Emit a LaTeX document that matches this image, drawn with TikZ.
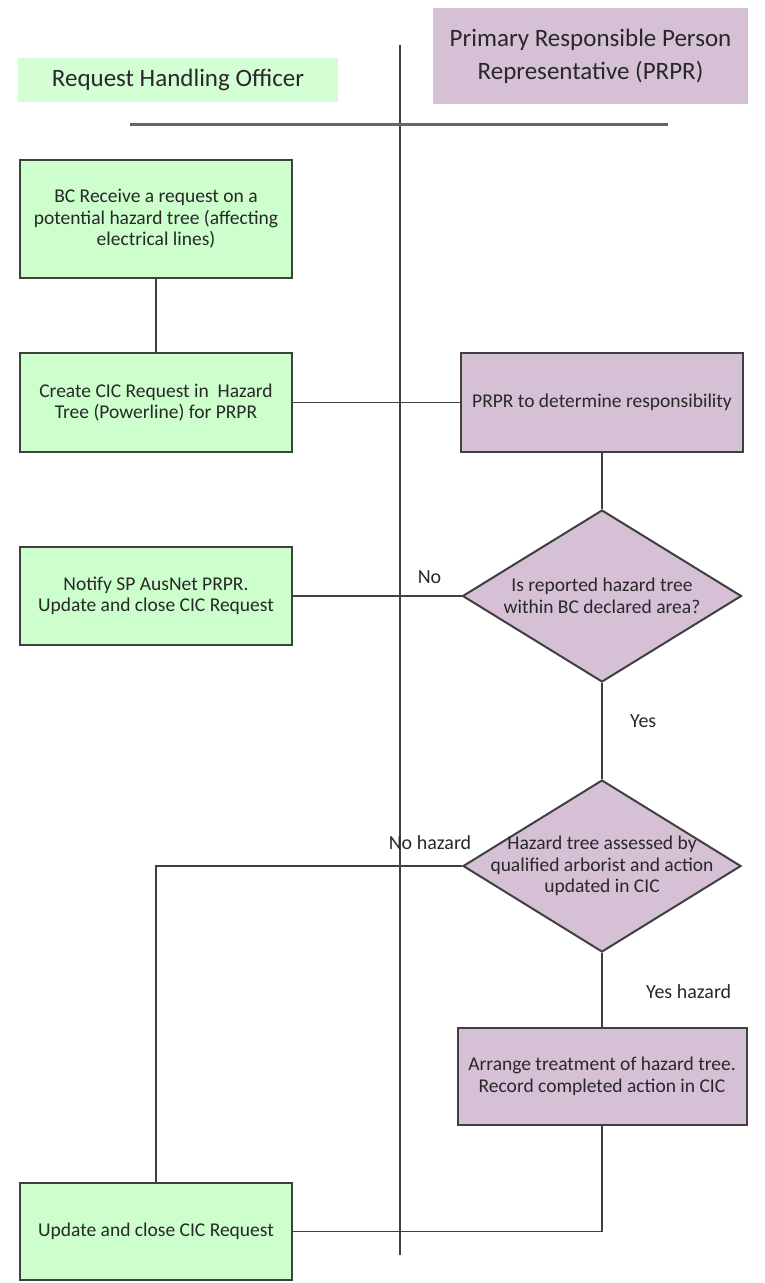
\documentclass[tikz,border=0pt]{standalone}
\usepackage{fontspec}
\setmainfont{Carlito}
\usetikzlibrary{positioning,shapes.geometric,calc}

\definecolor{rhogreen}{RGB}{204,255,204}
\definecolor{prprpurple}{RGB}{214,192,214}
\definecolor{linegray}{RGB}{64,64,64}
\definecolor{textgray}{RGB}{40,40,40}

\tikzset{
  greenbox/.style={draw=linegray, line width=2pt, fill=rhogreen, text=textgray, align=center, inner sep=2pt, font=\fontsize{19.5}{21.5}\selectfont},
  purplebox/.style={draw=linegray, line width=2pt, fill=prprpurple, text=textgray, align=center, inner sep=2pt, font=\fontsize{19.5}{21.5}\selectfont},
  decision/.style={diamond, draw=linegray, line width=2pt, fill=prprpurple, inner sep=0pt},
  dectext/.style={text=textgray, align=center, inner sep=0pt, font=\fontsize{19.5}{21.5}\selectfont},
  conn/.style={draw=linegray, line width=1.7pt},
  branchlabel/.style={text=textgray, font=\fontsize{20}{24}\selectfont}
}

\begin{document}
\begin{tikzpicture}[x=1pt, y=-1pt]
\useasboundingbox (0,0) rectangle (765,1283);

% lane headers
\node[fill=rhogreen!85!white, text=textgray, minimum width=320pt, minimum height=44pt, font=\fontsize{25}{30}\selectfont] (rho) at (178,80) {Request Handling Officer};
\node[fill=prprpurple, text=textgray, minimum width=315pt, minimum height=96pt, align=center, font=\fontsize{25}{33}\selectfont] (prpr) at (590.5,56) {Primary Responsible Person\\Representative (PRPR)};

\coordinate (divtop) at (400,45);
\coordinate (divbot) at (400,1255);
\coordinate (rulel) at (130,124);
\coordinate (ruler) at (668,124);
\draw[linegray, line width=1.4pt] (divtop) -- (divbot);
\draw[gray!80!black, line width=3pt] (rulel) -- (ruler);

% Request Handling Officer lane
\node[greenbox, minimum width=272pt, minimum height=118pt] (receive) at (156,219) {BC Receive a request on a\\potential hazard tree (affecting\\electrical lines)};
\node[greenbox, minimum width=272pt, minimum height=99pt] (create) at (156,402.5) {Create CIC Request in \ Hazard\\Tree (Powerline) for PRPR};
\node[greenbox, minimum width=272pt, minimum height=98pt] (notify) at (156,596) {Notify SP AusNet PRPR.\\Update and close CIC Request};
\node[greenbox, minimum width=272pt, minimum height=97pt] (close) at (156,1231.5) {Update and close CIC Request};

% PRPR lane
\node[purplebox, minimum width=282pt, minimum height=99pt] (determine) at (602,402.5) {PRPR to determine responsibility};
\node[decision, minimum width=279pt, minimum height=172pt] (declared) at (602,596) {};
\node[dectext] (declaredtxt) at (declared) {Is reported hazard tree\\within BC declared area?};
\node[decision, minimum width=278pt, minimum height=172pt] (assessed) at (602,866) {};
\node[dectext] (assessedtxt) at (assessed) {Hazard tree assessed by\\qualified arborist and action\\updated in CIC};
\node[purplebox, minimum width=289pt, minimum height=97pt] (treat) at (602,1076.5) {Arrange treatment of hazard tree.\\Record completed action in CIC};

% connectors
\draw[conn] (receive) -- (create);
\draw[conn] (create) -- (determine);
\draw[conn] (determine.south) -- (declared.north);
\draw[conn] (declared.west) -- node[branchlabel, pos=0.19, above=8pt] {No} (notify.east);
\draw[conn] (declared.south) -- node[branchlabel, pos=0.4, right=24pt] {Yes} (assessed.north);
\draw[conn] (assessed.west) -| (close.north);
\node[branchlabel] (nohazard) at (430,843) {No hazard};
\draw[conn] (assessed.south) -- node[branchlabel, pos=0.52, right=40pt] {Yes hazard} (treat.north);
\draw[conn] (close.east) -| (treat.south);

\end{tikzpicture}
\end{document}
